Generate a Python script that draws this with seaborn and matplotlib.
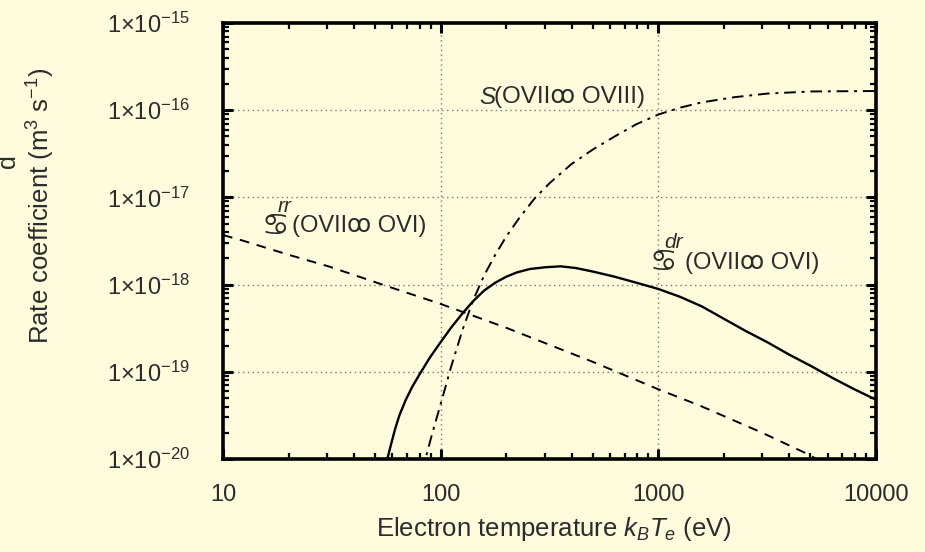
import numpy as np
import pandas as pd
import matplotlib
matplotlib.use("Agg")
import matplotlib.pyplot as plt
from matplotlib.ticker import FixedLocator, FixedFormatter, LogLocator, NullFormatter
import seaborn as sns

# ---------------- data ----------------
rr_T = [10, 12.3, 20, 31, 54, 100, 200, 500, 1000, 1550, 3000, 5000, 5700, 6500]
rr_val = [3.7e-18, 3.2e-18, 2.2e-18, 1.6e-18, 1.0e-18, 6.0e-19, 3.2e-19, 1.3e-19,
          6.3e-20, 4.1e-20, 2.0e-20, 1.1e-20, 8.9e-21, 7.0e-21]

dr_T = [55.0, 56.9, 58.9, 61.7, 64.6, 69.2, 74.1, 80.4, 89.1, 100, 112, 126, 141,
        158, 178, 200, 224, 257, 302, 355, 417, 501, 631, 794, 1000, 1259, 1585,
        1995, 2512, 3162, 3981, 5012, 6310, 7943, 10000]
dr_val = [7.1e-21, 1.0e-20, 1.41e-20, 2.19e-20, 3.16e-20, 4.79e-20, 6.76e-20,
          9.55e-20, 1.45e-19, 2.19e-19, 3.24e-19, 4.68e-19, 6.46e-19, 8.51e-19,
          1.05e-18, 1.23e-18, 1.38e-18, 1.51e-18, 1.58e-18, 1.62e-18, 1.55e-18,
          1.41e-18, 1.23e-18, 1.05e-18, 8.91e-19, 7.24e-19, 5.62e-19, 4.07e-19,
          2.95e-19, 2.19e-19, 1.58e-19, 1.17e-19, 8.51e-20, 6.31e-20, 4.79e-20]

S_T = [82.2, 85.1, 91.2, 100, 112, 126, 141, 158, 178, 200, 229, 269, 316, 398,
       501, 631, 794, 1000, 1259, 1585, 2239, 3162, 5012, 10000]
S_val = [7.08e-21, 1.0e-20, 1.91e-20, 4.27e-20, 1.17e-19, 3.02e-19, 6.61e-19,
         1.26e-18, 2.19e-18, 3.55e-18, 5.75e-18, 9.6e-18, 1.45e-17, 2.4e-17,
         3.55e-17, 5.01e-17, 6.92e-17, 8.91e-17, 1.07e-16, 1.23e-16, 1.41e-16,
         1.55e-16, 1.64e-16, 1.66e-16]

x_ticks = [10, 100, 1000, 10000]
x_tick_labels = ["10", "100", "1000", "10000"]
y_ticks = [1e-20, 1e-19, 1e-18, 1e-17, 1e-16, 1e-15]
y_tick_labels = ["1×10$^{-20}$", "1×10$^{-19}$", "1×10$^{-18}$",
                 "1×10$^{-17}$", "1×10$^{-16}$", "1×10$^{-15}$"]

x_label = "Electron temperature $k_BT_e$ (eV)"
y_label = "Rate coefficient (m$^{3}$ s$^{-1}$)"
alpha_glyph = "♋"
arrow_glyph = "ꝏ"
label_rr_sup = "rr"
label_dr_sup = "dr"
label_ovi = "(OVII" + arrow_glyph + " OVI)"
label_S_head = "S"
label_S_tail = "(OVII" + arrow_glyph + " OVIII)"

# ---------------- style ----------------
bg = "#fefcdc"
ink = "#2b2b2b"
sns.set_theme(style="ticks")
plt.rcParams["font.family"] = ["Liberation Sans", "DejaVu Sans"]
plt.rcParams["mathtext.fontset"] = "custom"
plt.rcParams["mathtext.rm"] = "Liberation Sans"
plt.rcParams["mathtext.it"] = "Liberation Sans:italic"
plt.rcParams["mathtext.bf"] = "Liberation Sans:bold"
plt.rcParams["text.color"] = ink

fig = plt.figure(figsize=(9.25, 5.52), dpi=100, facecolor=bg)
ax = fig.add_axes([223 / 925, 1 - 459 / 552, 653 / 925, 436 / 552])
ax.set_facecolor(bg)

df_rr = pd.DataFrame({"T": rr_T, "rate": rr_val})
df_dr = pd.DataFrame({"T": dr_T, "rate": dr_val})
df_S = pd.DataFrame({"T": S_T, "rate": S_val})

sns.lineplot(data=df_rr, x="T", y="rate", ax=ax, color="black", lw=1.4,
             linestyle=(0, (5, 4)), sort=False)
sns.lineplot(data=df_dr, x="T", y="rate", ax=ax, color="black", lw=1.7,
             linestyle="-", sort=False)
sns.lineplot(data=df_S, x="T", y="rate", ax=ax, color="black", lw=1.4,
             linestyle=(0, (6, 3, 1.5, 3)), sort=False)

ax.set_xscale("log")
ax.set_yscale("log")
ax.set_xlim(10, 10000)
ax.set_ylim(1e-20, 1e-15)

ax.xaxis.set_major_locator(FixedLocator(x_ticks))
ax.xaxis.set_major_formatter(FixedFormatter(x_tick_labels))
ax.yaxis.set_major_locator(FixedLocator(y_ticks))
ax.yaxis.set_major_formatter(FixedFormatter(y_tick_labels))
ax.xaxis.set_minor_locator(LogLocator(base=10, subs=np.arange(2, 10), numticks=20))
ax.yaxis.set_minor_locator(LogLocator(base=10, subs=np.arange(2, 10), numticks=20))
ax.xaxis.set_minor_formatter(NullFormatter())
ax.yaxis.set_minor_formatter(NullFormatter())

ax.tick_params(which="both", direction="in", top=True, right=True, colors="black",
               labelcolor=ink, labelsize=17)
ax.tick_params(which="major", length=7, width=2.2)
ax.tick_params(which="minor", length=4.5, width=1.6)
ax.tick_params(axis="y", which="major", pad=24)
ax.tick_params(axis="x", which="major", pad=18)

for sp in ax.spines.values():
    sp.set_linewidth(2.6)
    sp.set_color("black")

ax.grid(which="major", linestyle=(0, (1, 2.5)), color="#777777", linewidth=1.0)

ax.set_xlabel(x_label, fontsize=18.5, color=ink)
ax.set_ylabel(y_label, fontsize=18.5, color=ink)
ax.xaxis.set_label_coords(0.507, -0.128)
ax.yaxis.set_label_coords(-0.254, 0.58)

# stray clipped character at the far left
fig.text(8 / 925, 1 - 161 / 552, "d", rotation=90, ha="center", va="center",
         fontsize=18, color=ink)

# curve annotations
glyph_family = ["DejaVu Sans"]
ax.text(15.1, 4.7e-18, alpha_glyph, fontsize=22, ha="left", va="center",
        family=glyph_family, color=ink)
ax.text(17.9, 7.9e-18, label_rr_sup, fontsize=15, ha="left", va="center",
        style="italic", color=ink)
ax.text(20.7, 4.7e-18, label_ovi, fontsize=17, ha="left", va="center", color=ink)

ax.text(914, 1.78e-18, alpha_glyph, fontsize=22, ha="left", va="center",
        family=glyph_family, color=ink)
ax.text(1070, 3.0e-18, label_dr_sup, fontsize=15, ha="left", va="center",
        style="italic", color=ink)
ax.text(1324, 1.78e-18, label_ovi, fontsize=17, ha="left", va="center", color=ink)

ax.text(150, 1.41e-16, label_S_head, fontsize=17.5, ha="left", va="center",
        style="italic", color=ink)
ax.annotate(label_S_tail, xy=(150, 1.41e-16), xytext=(10.5, 0),
            textcoords="offset points", fontsize=17.5, ha="left", va="center",
            color=ink)

fig.savefig("out.png", dpi=100, facecolor=bg)
